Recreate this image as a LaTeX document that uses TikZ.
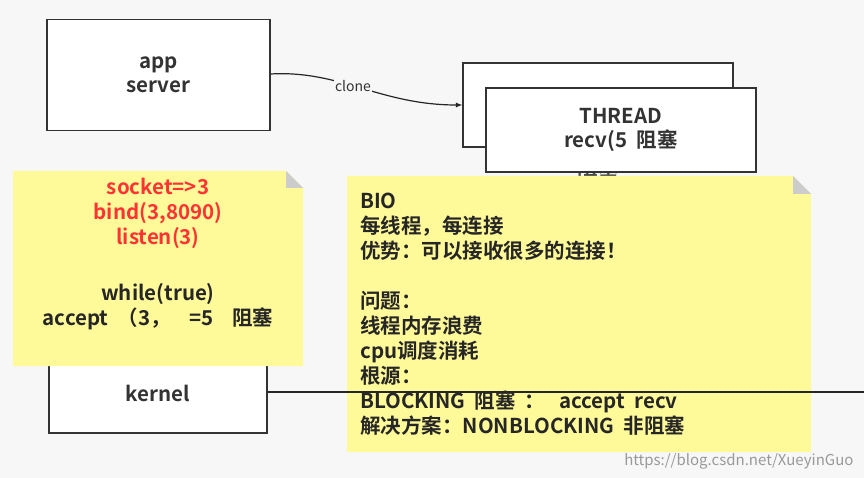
\documentclass[tikz,border=0pt]{standalone}
\usepackage{fontspec}
\setmainfont{Noto Sans CJK SC}[BoldFont={* Bold}]
\newfontfamily\wm{Noto Sans CJK SC}
\begin{document}
\begin{tikzpicture}[x=1pt,y=-1pt,
  box/.style={draw=black!80,line width=1.3pt,fill=white,font=\bfseries\fontsize{20.5}{24}\selectfont,text=black!80,align=center,inner sep=0},
  ntxt/.style={font=\bfseries\fontsize{20.5}{25}\selectfont,text=black!85,inner sep=0}]
\fill[white!97!black] (0,0) rectangle (864,478);
\useasboundingbox (0,0) rectangle (864,478);
\node[box,minimum width=223,minimum height=111] (app) at (158.5,75) {app\\server};
\node[box,minimum width=270,minimum height=84] (t1) at (598,105) {};
\node[ntxt,text=black!70] (hid) at (598,168) {阻塞};
\node[box,minimum width=270,minimum height=84] (t2) at (621,130) {THREAD\\recv(5\ \ 阻塞};
\draw[black!85,line width=1.2pt,-latex] (app.east|-0,74) .. controls (340,70) and (380,105) .. (t1.west|-0,105) node[pos=0.45,fill=white!97!black,inner sep=1pt,font=\fontsize{14}{16}\selectfont,text=black!80] (cl) {clone};
\node[box,minimum width=218,minimum height=93] (k) at (158,386.5) {};
\node[font=\bfseries\fontsize{20.5}{24}\selectfont,text=black!80] (kl) at (158,393) {kernel};
% left note
\fill[yellow!40!white] (13,171) -- (286,171) -- (303,188) -- (303,366) -- (13,366) -- cycle;
\fill[black!20] (286,171) -- (303,188) -- (286,188) -- cycle;
\node[ntxt,align=center,text=red!80] (n1) at (158,213) {socket=>3\\bind(3,8090)\\listen(3)};
\node[ntxt,align=center] (n2) at (158,307) {while(true)\\accept\ \ （3，\ \ \ \ =5\ \ \ \ 阻塞};
% right note
\fill[yellow!40!white] (347,176) -- (793,176) -- (811,194) -- (811,452) -- (347,452) -- cycle;
\fill[black!20] (793,176) -- (811,194) -- (793,194) -- cycle;
\coordinate (end) at (864,392);
\draw[black!85,line width=1.2pt] (k.east|-0,392) -- (end);
\node[ntxt,align=left,anchor=north west] (n3) at (360,193) {BIO\\每线程，每连接\\优势：可以接收很多的连接！\\[25pt]问题：\\线程内存浪费\\cpu调度消耗\\根源：\\BLOCKING\ \ 阻塞\ \ ：\ \ \ accept\ \ recv\\解决方案：NONBLOCKING\ \ 非阻塞};
\node[font=\wm\fontsize{15}{17}\selectfont,text=black!40,anchor=east] (w) at (857,461) {https://blog.csdn.net/XueyinGuo};
\end{tikzpicture}
\end{document}
